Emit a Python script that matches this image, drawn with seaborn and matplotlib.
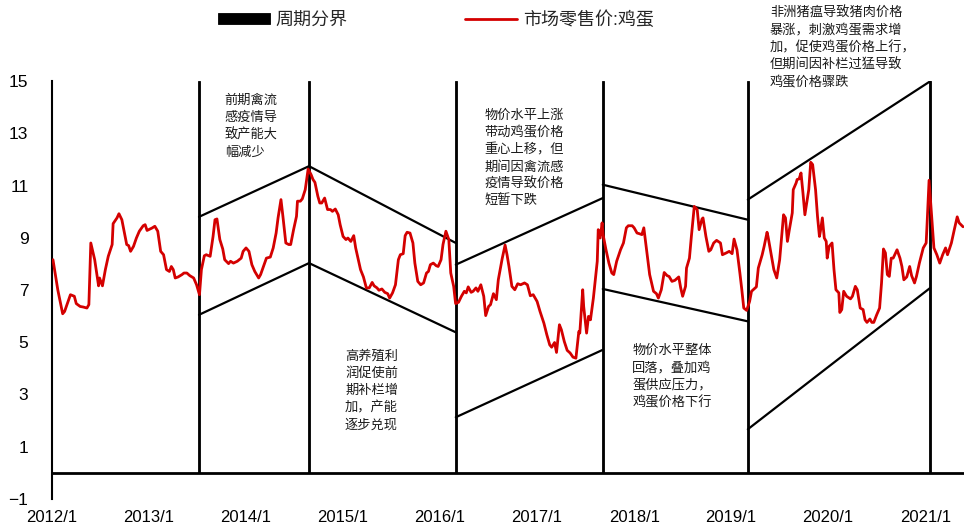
import matplotlib
matplotlib.use("Agg")
import matplotlib.pyplot as plt
import seaborn as sns
import pandas as pd

# 市场零售价:鸡蛋 (decimal year, price)
years = [
    2012.01, 2012.06, 2012.11, 2012.13, 2012.19, 2012.23, 2012.25, 2012.29, 2012.32, 2012.36,
    2012.38, 2012.40, 2012.44, 2012.48, 2012.49, 2012.52, 2012.55, 2012.58, 2012.62, 2012.63,
    2012.67, 2012.69, 2012.72, 2012.74, 2012.77, 2012.79, 2012.81, 2012.84, 2012.87, 2012.90,
    2012.94, 2012.96, 2012.98, 2013.03, 2013.06, 2013.09, 2013.12, 2013.15, 2013.18, 2013.21,
    2013.23, 2013.25, 2013.27, 2013.30, 2013.34, 2013.36, 2013.39, 2013.42, 2013.46, 2013.49,
    2013.52, 2013.54, 2013.57, 2013.59, 2013.63, 2013.66, 2013.68, 2013.70, 2013.73, 2013.76,
    2013.78, 2013.82, 2013.84, 2013.87, 2013.91, 2013.95, 2013.97, 2014.00, 2014.03, 2014.06,
    2014.09, 2014.13, 2014.15, 2014.18, 2014.21, 2014.25, 2014.28, 2014.31, 2014.33, 2014.36,
    2014.38, 2014.41, 2014.44, 2014.46, 2014.49, 2014.52, 2014.53, 2014.56, 2014.58, 2014.61,
    2014.63, 2014.64, 2014.67, 2014.69, 2014.71, 2014.74, 2014.76, 2014.78, 2014.81, 2014.84,
    2014.87, 2014.89, 2014.92, 2014.95, 2014.97, 2015.00, 2015.03, 2015.05, 2015.08, 2015.11,
    2015.13, 2015.18, 2015.21, 2015.24, 2015.27, 2015.30, 2015.32, 2015.35, 2015.37, 2015.40,
    2015.43, 2015.46, 2015.48, 2015.51, 2015.54, 2015.57, 2015.59, 2015.62, 2015.64, 2015.66,
    2015.69, 2015.72, 2015.74, 2015.77, 2015.80, 2015.83, 2015.86, 2015.88, 2015.90, 2015.93,
    2015.96, 2015.98, 2016.01, 2016.03, 2016.06, 2016.09, 2016.11, 2016.14, 2016.16, 2016.19,
    2016.22, 2016.25, 2016.27, 2016.29, 2016.32, 2016.34, 2016.37, 2016.39, 2016.42, 2016.45,
    2016.47, 2016.50, 2016.52, 2016.55, 2016.58, 2016.60, 2016.64, 2016.67, 2016.69, 2016.71,
    2016.74, 2016.77, 2016.80, 2016.83, 2016.87, 2016.90, 2016.93, 2016.96, 2017.00, 2017.03,
    2017.07, 2017.10, 2017.13, 2017.15, 2017.18, 2017.20, 2017.23, 2017.25, 2017.28, 2017.31,
    2017.34, 2017.37, 2017.40, 2017.43, 2017.44, 2017.47, 2017.48, 2017.51, 2017.53, 2017.55,
    2017.58, 2017.62, 2017.63, 2017.65, 2017.67, 2017.68, 2017.71, 2017.74, 2017.77, 2017.79,
    2017.82, 2017.86, 2017.89, 2017.92, 2017.94, 2017.98, 2018.00, 2018.03, 2018.05, 2018.08,
    2018.10, 2018.13, 2018.16, 2018.20, 2018.23, 2018.25, 2018.28, 2018.31, 2018.34, 2018.36,
    2018.39, 2018.42, 2018.46, 2018.48, 2018.50, 2018.53, 2018.54, 2018.57, 2018.59, 2018.62,
    2018.65, 2018.67, 2018.70, 2018.71, 2018.74, 2018.77, 2018.79, 2018.82, 2018.85, 2018.89,
    2018.91, 2018.95, 2018.98, 2019.01, 2019.03, 2019.06, 2019.09, 2019.11, 2019.13, 2019.16,
    2019.19, 2019.21, 2019.26, 2019.28, 2019.32, 2019.34, 2019.37, 2019.38, 2019.41, 2019.44,
    2019.47, 2019.50, 2019.54, 2019.56, 2019.58, 2019.60, 2019.63, 2019.64, 2019.67, 2019.68,
    2019.70, 2019.72, 2019.74, 2019.76, 2019.80, 2019.82, 2019.84, 2019.87, 2019.89, 2019.91,
    2019.92, 2019.94, 2019.96, 2019.98, 2019.99, 2020.01, 2020.04, 2020.06, 2020.08, 2020.11,
    2020.12, 2020.14, 2020.16, 2020.19, 2020.23, 2020.25, 2020.28, 2020.30, 2020.33, 2020.36,
    2020.38, 2020.40, 2020.43, 2020.45, 2020.47, 2020.50, 2020.53, 2020.55, 2020.57, 2020.59,
    2020.61, 2020.63, 2020.65, 2020.67, 2020.71, 2020.74, 2020.76, 2020.78, 2020.81, 2020.84,
    2020.86, 2020.89, 2020.91, 2020.94, 2020.98, 2021.01, 2021.02, 2021.04, 2021.07, 2021.09,
    2021.12, 2021.15, 2021.18, 2021.21, 2021.23, 2021.27, 2021.30, 2021.33, 2021.35, 2021.39,
]
price = [
    8.16, 7.00, 6.09, 6.18, 6.82, 6.76, 6.48, 6.37, 6.35, 6.31,
    6.44, 8.80, 8.16, 7.16, 7.46, 7.16, 7.78, 8.29, 8.74, 9.54,
    9.76, 9.92, 9.69, 9.31, 8.74, 8.70, 8.48, 8.67, 8.99, 9.25,
    9.46, 9.50, 9.28, 9.37, 9.44, 9.25, 8.48, 8.35, 7.78, 7.71,
    7.90, 7.78, 7.46, 7.50, 7.59, 7.65, 7.65, 7.55, 7.46, 7.20,
    6.82, 7.78, 8.31, 8.35, 8.29, 9.05, 9.69, 9.72, 8.93, 8.57,
    8.16, 8.01, 8.10, 8.03, 8.10, 8.22, 8.48, 8.61, 8.48, 7.97,
    7.71, 7.46, 7.59, 7.90, 8.22, 8.26, 8.61, 9.18, 9.76, 10.46,
    9.82, 8.80, 8.74, 8.74, 9.31, 9.82, 10.40, 10.40, 10.49, 10.84,
    11.35, 11.63, 11.42, 11.23, 11.12, 10.59, 10.33, 10.33, 10.52, 10.08,
    10.08, 10.01, 10.10, 9.88, 9.50, 9.05, 8.93, 8.99, 8.86, 9.08,
    8.61, 7.78, 7.50, 7.08, 7.08, 7.29, 7.16, 7.08, 6.99, 7.04,
    6.91, 6.86, 6.69, 6.89, 7.20, 8.16, 8.35, 8.39, 9.08, 9.21,
    9.18, 8.80, 8.03, 7.33, 7.20, 7.27, 7.65, 7.71, 7.97, 8.03,
    7.93, 7.90, 8.16, 8.74, 9.25, 8.93, 7.65, 7.14, 6.48, 6.53,
    6.76, 6.95, 6.89, 7.12, 6.91, 6.95, 7.08, 6.95, 7.20, 6.76,
    6.02, 6.37, 6.44, 6.86, 6.63, 7.39, 8.20, 8.72, 8.35, 7.90,
    7.14, 7.01, 7.24, 7.20, 7.27, 7.20, 6.78, 6.82, 6.56, 6.18,
    5.73, 5.29, 4.90, 4.81, 4.99, 4.61, 5.67, 5.48, 5.03, 4.69,
    4.59, 4.43, 4.39, 5.41, 5.35, 7.01, 6.37, 5.35, 5.99, 5.86,
    6.69, 8.10, 9.31, 8.99, 9.57, 9.12, 8.54, 8.03, 7.65, 7.59,
    8.10, 8.54, 8.80, 9.38, 9.46, 9.46, 9.38, 9.18, 9.16, 9.12,
    9.38, 8.48, 7.59, 6.95, 6.86, 6.69, 7.01, 7.67, 7.55, 7.52,
    7.33, 7.37, 7.50, 7.08, 6.76, 7.14, 7.84, 8.22, 9.05, 10.20,
    10.08, 9.31, 9.72, 9.76, 9.05, 8.48, 8.54, 8.80, 8.90, 8.80,
    8.35, 8.42, 8.48, 8.39, 8.95, 8.54, 7.65, 7.01, 6.31, 6.22,
    6.56, 6.95, 7.12, 7.84, 8.35, 8.67, 9.21, 9.05, 8.42, 7.78,
    7.46, 8.16, 9.88, 9.76, 8.86, 9.31, 9.95, 10.84, 11.10, 11.23,
    11.25, 11.48, 10.72, 9.88, 10.84, 11.89, 11.80, 10.84, 9.82, 9.05,
    9.25, 9.76, 8.99, 8.86, 8.22, 8.67, 8.80, 7.78, 7.01, 6.89,
    6.14, 6.25, 6.95, 6.76, 6.66, 6.76, 7.14, 7.01, 6.31, 6.25,
    5.86, 5.76, 5.89, 5.76, 5.76, 6.05, 6.31, 7.27, 8.57, 8.42,
    7.59, 7.52, 8.22, 8.22, 8.54, 8.22, 7.90, 7.39, 7.50, 7.90,
    7.55, 7.27, 7.52, 8.03, 8.61, 8.80, 9.57, 11.20, 9.63, 8.61,
    8.35, 8.03, 8.35, 8.61, 8.35, 8.80, 9.31, 9.80, 9.57, 9.42,
]

# 周期分界
boundary_years = [2013.515, 2014.649, 2016.162, 2017.677, 2019.172, 2021.052]
boundary_height = 15

# trend channels per cycle
cycle_start = [2013.515, 2014.649, 2016.162, 2017.677, 2019.172]
cycle_end = [2014.649, 2016.162, 2017.677, 2019.172, 2021.052]
upper_start = [9.80, 11.74, 7.97, 11.03, 10.46]
upper_end = [11.74, 8.80, 10.52, 9.69, 14.99]
lower_start = [6.05, 8.03, 2.13, 7.04, 1.67]
lower_end = [8.03, 5.38, 4.71, 5.80, 7.08]

note_text = [
    "前期禽流\n感疫情导\n致产能大\n幅减少",
    "高养殖利\n润促使前\n期补栏增\n加，产能\n逐步兑现",
    "物价水平上涨\n带动鸡蛋价格\n重心上移，但\n期间因禽流感\n疫情导致价格\n短暂下跌",
    "物价水平整体\n回落，叠加鸡\n蛋供应压力，\n鸡蛋价格下行",
    "非洲猪瘟导致猪肉价格\n暴涨，刺激鸡蛋需求增\n加，促使鸡蛋价格上行，\n但期间因补栏过猛导致\n鸡蛋价格骤跌",
]
note_x = [2013.78, 2015.02, 2016.46, 2017.98, 2019.40]
note_y = [14.5, 4.72, 13.93, 4.92, 17.85]

sns.set_theme(style="white")
plt.rcParams["font.family"] = ["Liberation Sans", "Noto Sans CJK SC", "DejaVu Sans"]

df = pd.DataFrame({"year": years, "price": price})

fig = plt.figure(figsize=(9.64, 5.32), dpi=100)
ax = fig.add_axes([52 / 964, 33 / 532, 912 / 964, 418 / 532])

bars = ax.bar(boundary_years, boundary_height, width=0.022, color="black",
              edgecolor="black", linewidth=0.6, label="周期分界", zorder=3)
sns.lineplot(data=df, x="year", y="price", ax=ax, color="#d40000", linewidth=2.0,
             estimator=None, sort=False, label="市场零售价:鸡蛋", zorder=4)

for s, e, u0, u1, l0, l1 in zip(cycle_start, cycle_end, upper_start, upper_end,
                                lower_start, lower_end):
    ax.plot([s, e], [u0, u1], color="black", linewidth=1.6, zorder=2)
    ax.plot([s, e], [l0, l1], color="black", linewidth=1.6, zorder=2)

ax.axhline(0, color="black", linewidth=2, zorder=2)

for s, x, y in zip(note_text, note_x, note_y):
    ax.text(x, y, s, ha="left", va="top", fontsize=9.5, linespacing=1.42,
            color="#1a1a1a", fontweight="medium",
            family=["Noto Sans CJK SC", "DejaVu Sans"], clip_on=False)

ax.set_xlim(2012, 2021.40)
ax.set_ylim(-1, 15)
ax.set_xticks(range(2012, 2022))
ax.set_xticklabels([f"{y}/1" for y in range(2012, 2022)])
ax.set_yticks(range(-1, 16, 2))
ax.set_yticklabels(["−1"] + [str(v) for v in range(1, 16, 2)])
ax.tick_params(axis="x", length=0, pad=8, labelsize=12, colors="black")
ax.tick_params(axis="y", length=0, pad=17, labelsize=12.5, colors="black")
ax.set_xlabel("")
ax.set_ylabel("")
for side in ["top", "right", "bottom"]:
    ax.spines[side].set_visible(False)
ax.spines["left"].set_color("black")
ax.spines["left"].set_linewidth(1.5)

handles, labels = ax.get_legend_handles_labels()
if ax.get_legend() is not None:
    ax.get_legend().remove()
order = [labels.index("周期分界"), labels.index("市场零售价:鸡蛋")]
fig.legend([handles[i] for i in order], [labels[i] for i in order],
           loc="center", bbox_to_anchor=(0.452, 0.962), ncol=2, frameon=False,
           fontsize=13, handlelength=2.9, handleheight=0.6, handletextpad=0.3,
           columnspacing=6.5)

fig.savefig("out.png", dpi=100)
